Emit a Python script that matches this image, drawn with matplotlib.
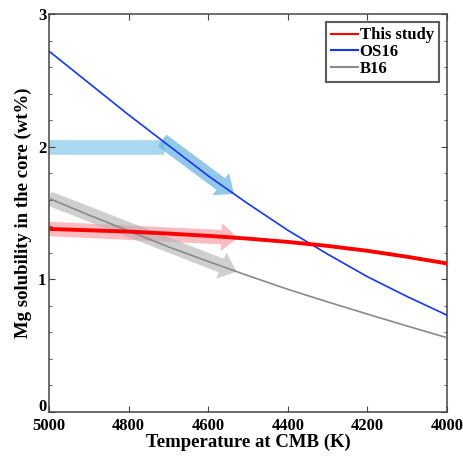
import numpy as np
import matplotlib
matplotlib.use("Agg")
import matplotlib.pyplot as plt
import matplotlib.transforms as mtransforms
from matplotlib.ticker import MultipleLocator

plt.rcParams["font.family"] = ["Liberation Serif", "DejaVu Serif"]
plt.rcParams["font.weight"] = "bold"

# values
temperature = [5000, 4900, 4800, 4700, 4600, 4500, 4400, 4300, 4200, 4100, 4000]
this_study = [1.38, 1.37, 1.36, 1.345, 1.328, 1.307, 1.282, 1.252, 1.215, 1.17, 1.12]
os16 = [2.72, 2.48, 2.24, 2.01, 1.78, 1.57, 1.37, 1.19, 1.02, 0.87, 0.73]
b16 = [1.61, 1.485, 1.365, 1.245, 1.135, 1.028, 0.925, 0.83, 0.738, 0.648, 0.56]

# guide arrows (temperature range of each)
bar_level = 2.0
bar_T = [5000, 4712]
os16_arrow_T = [4716, 4535]
study_arrow_T = [5000, 4525]
b16_arrow_T = [5000, 4528]

fig = plt.figure(figsize=(4.64, 4.58), dpi=100)
ax = fig.add_axes([0.1056, 0.1004, 0.8578, 0.869])

T = np.array(temperature)[::-1]


def on_curve(vals, t):
    return float(np.interp(t, T, np.array(vals)[::-1]))


arrow_style = "simple,head_length=0.6,head_width=1.0,tail_width=0.52"


def guide_arrow(vals, t_range, color, alpha):
    ann = ax.annotate("", xy=(t_range[1], on_curve(vals, t_range[1])),
                      xytext=(t_range[0], on_curve(vals, t_range[0])),
                      arrowprops=dict(arrowstyle=arrow_style, color=color, alpha=alpha,
                                      lw=0, shrinkA=0, shrinkB=0, mutation_scale=20),
                      zorder=1)
    ann.arrow_patch.set_clip_path(ax.patch)
    return ann


# light blue bar + arrow along OS16
ax.plot(bar_T, [bar_level, bar_level], color="#8ccbec", alpha=0.75, lw=10.5,
        solid_capstyle="butt", zorder=1)
guide_arrow(os16, os16_arrow_T, "#6fb6e3", 0.75)
guide_arrow(this_study, study_arrow_T, "#f57a85", 0.5)
guide_arrow(b16, b16_arrow_T, "#b0b0b0", 0.6)

ax.plot(temperature, b16, color="#8a8a8a", lw=1.2, label="B16", zorder=3)
ax.plot(temperature, os16, color="#1437f0", lw=1.2, label="OS16", zorder=3)
ax.plot(temperature, this_study, color="#ff0000", lw=2.8, label="This study", zorder=4)

ax.set_xlim(5000, 4000)
ax.set_ylim(0, 3)
ax.set_xticks([5000, 4800, 4600, 4400, 4200, 4000])
ax.set_yticks([0, 1, 2, 3])
ax.yaxis.set_minor_locator(MultipleLocator(0.2))
ax.tick_params(which="both", direction="in", top=True, right=True,
               labelsize=12, color="#444444", pad=2)
ax.tick_params(axis="x", pad=4)
ax.tick_params(which="major", length=4)
ax.tick_params(which="minor", length=2.5)
for s in ax.spines.values():
    s.set_color("#444444")
    s.set_linewidth(1.1)

# lift the "0" label a little so it clears the "5000" below it
lift = mtransforms.ScaledTranslation(0, 7 / 100, fig.dpi_scale_trans)
zero_label = ax.get_yticklabels()[0]
zero_label.set_transform(zero_label.get_transform() + lift)

ax.set_xlabel("Temperature at CMB (K)", fontsize=13.5, fontweight="bold", labelpad=0)
ax.set_ylabel("Mg solubility in the core (wt%)", fontsize=13.5, fontweight="bold", labelpad=4)

h, l = ax.get_legend_handles_labels()
order = [2, 1, 0]
leg = ax.legend([h[i] for i in order], [l[i] for i in order], loc="upper right",
                fontsize=12, frameon=True, fancybox=False, handlelength=1.6,
                handletextpad=0.1, borderpad=0.3, labelspacing=0.05,
                borderaxespad=0.5, edgecolor="#333333")
leg.get_frame().set_linewidth(1.5)
for line in leg.get_lines():
    line.set_linewidth(1.5)

fig.savefig("out.png", dpi=100)
